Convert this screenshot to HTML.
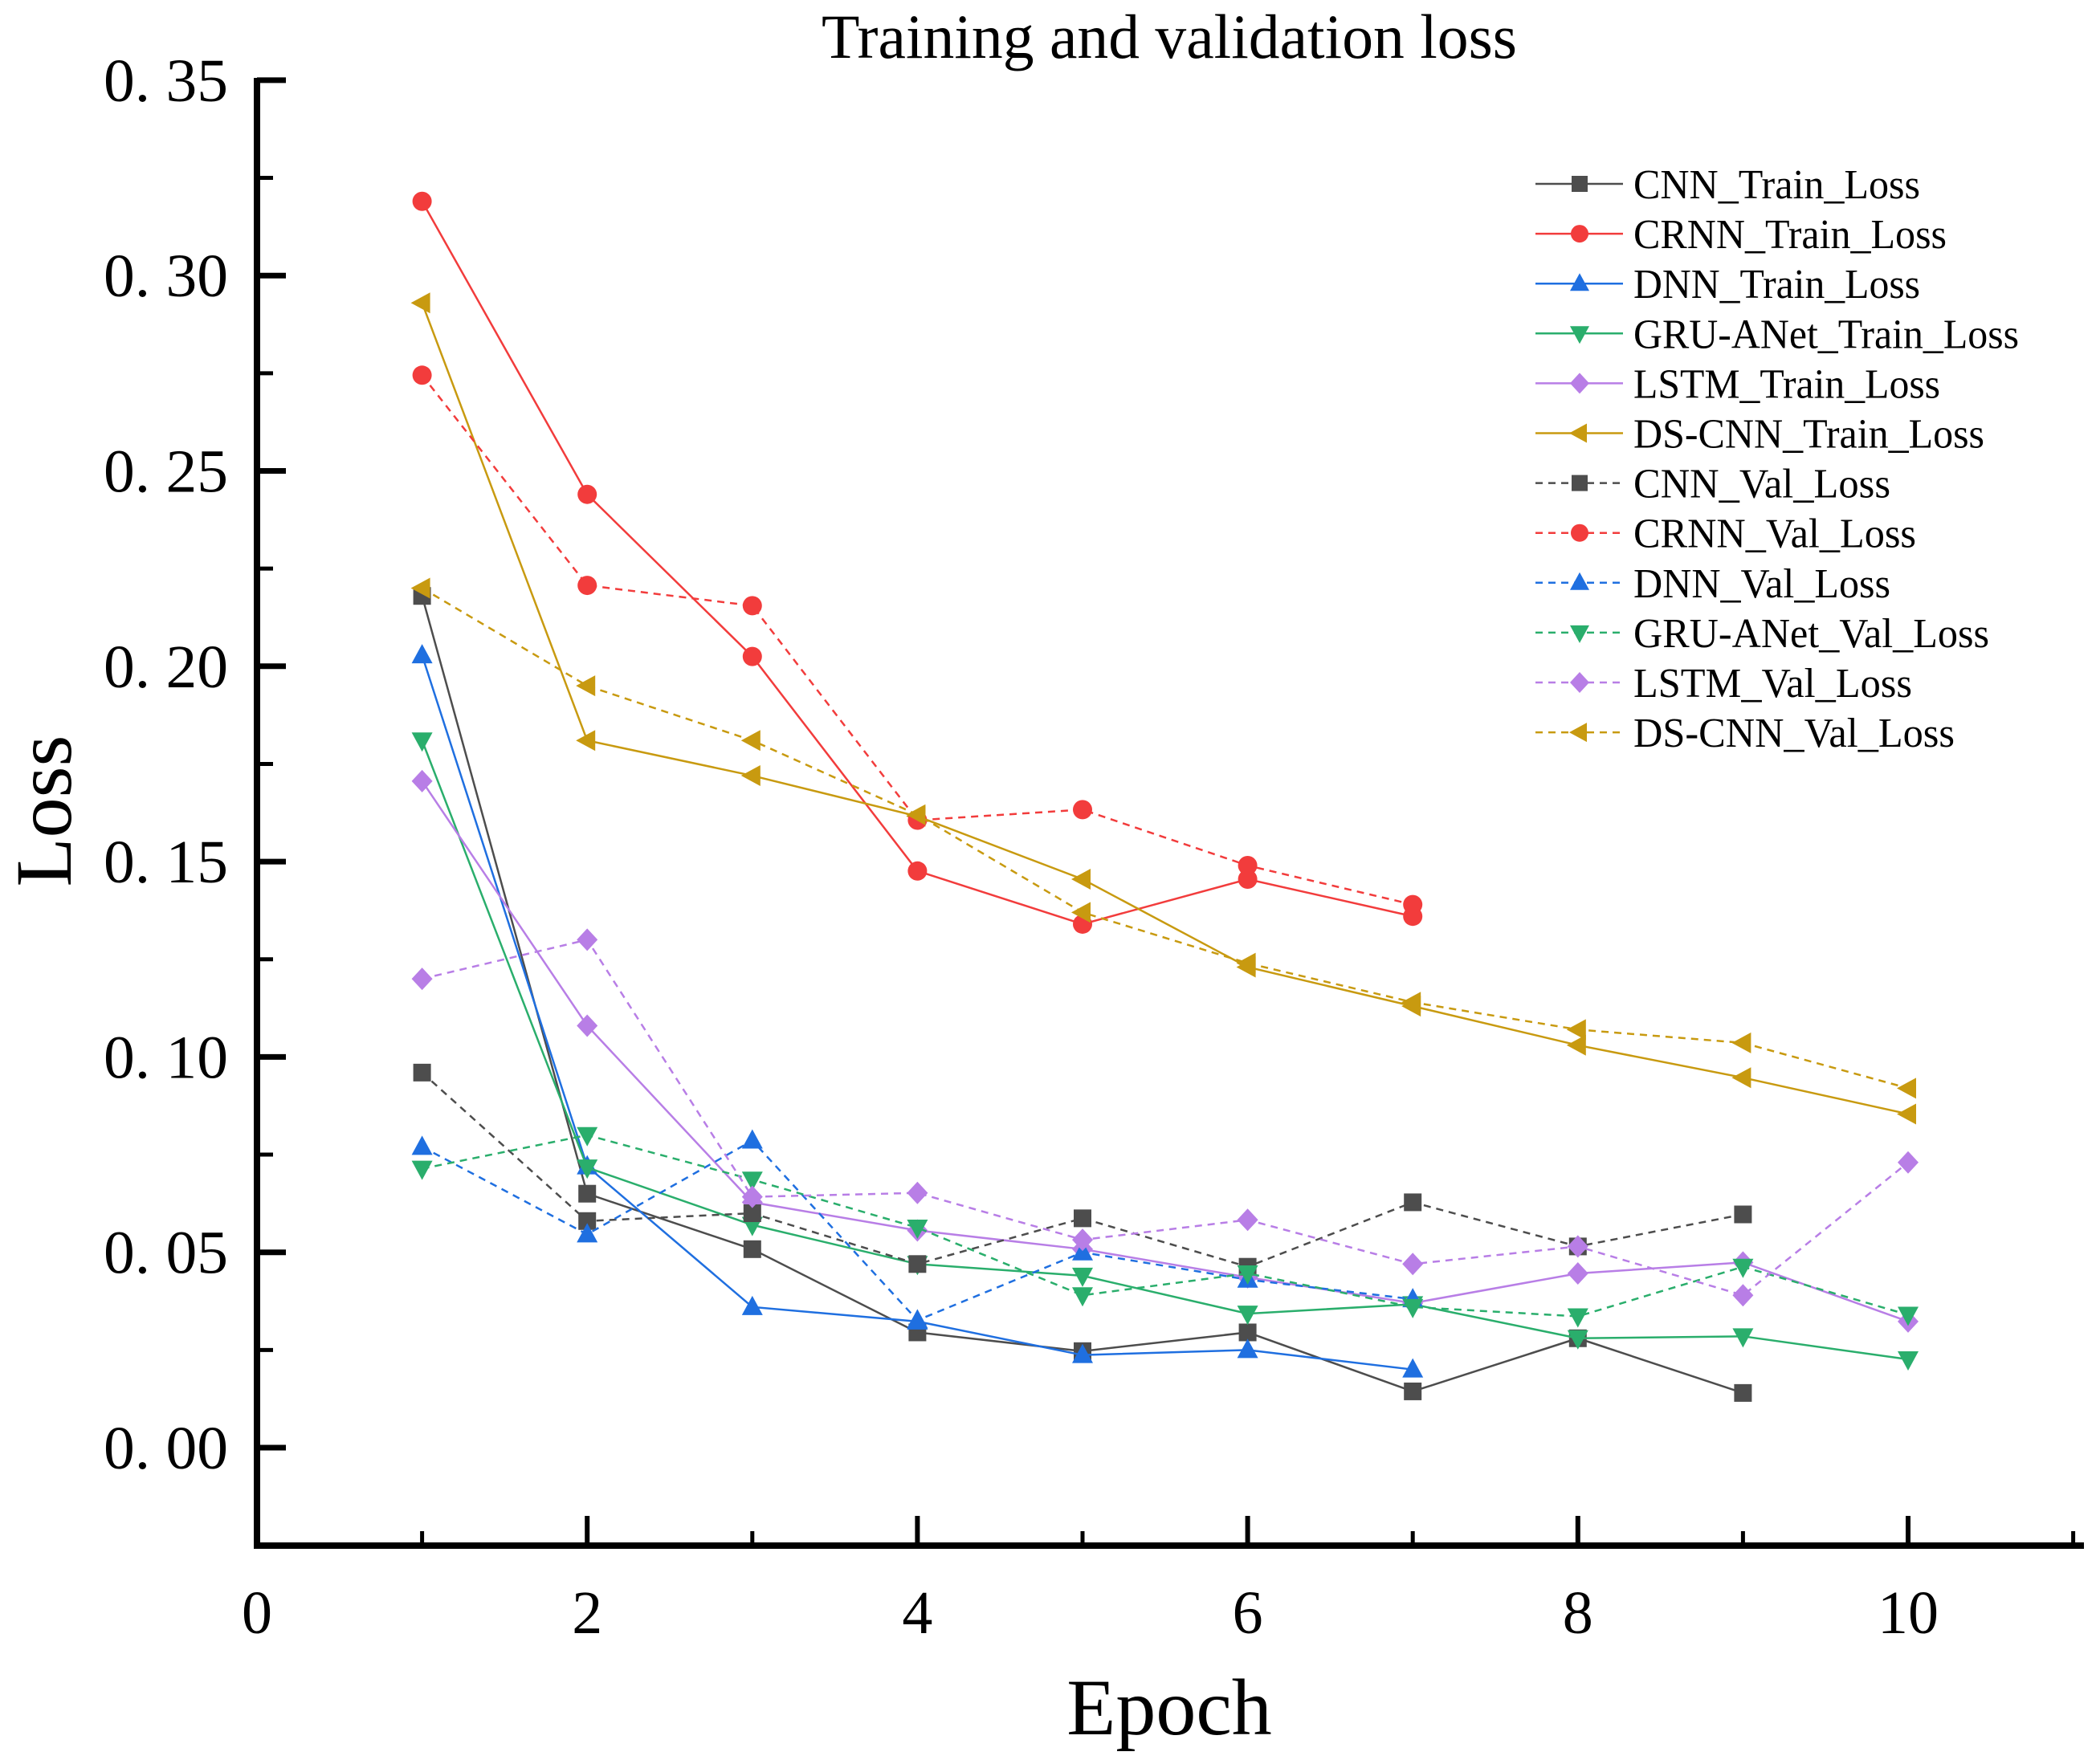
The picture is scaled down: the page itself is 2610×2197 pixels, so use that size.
<!DOCTYPE html>
<html><head><meta charset="utf-8"><style>
html,body{margin:0;padding:0;background:#fff;}
svg{display:block;font-family:"Liberation Serif",serif;}
</style></head><body>
<svg id="chart" width="2610" height="2197" viewBox="0 0 2610 2197" xmlns="http://www.w3.org/2000/svg">
<text x="1456" y="72" font-size="78" text-anchor="middle" textLength="866" lengthAdjust="spacingAndGlyphs">Training and validation loss</text>
<text x="0" y="0" font-size="100" text-anchor="middle" transform="translate(88,1010) rotate(-90)">Loss</text>
<text x="1456" y="2160" font-size="100" text-anchor="middle">Epoch</text>
<g id="axes"></g>
<g id="series"></g>
<g id="legend"></g>
</svg>
<script>
const epochs = [1,2,3,4,5,6,7,8,9,10];
const seriesNames = ["CNN_Train_Loss","CRNN_Train_Loss","DNN_Train_Loss","GRU-ANet_Train_Loss","LSTM_Train_Loss","DS-CNN_Train_Loss","CNN_Val_Loss","CRNN_Val_Loss","DNN_Val_Loss","GRU-ANet_Val_Loss","LSTM_Val_Loss","DS-CNN_Val_Loss"];
const cnnTrain = [0.218,0.065,0.0508,0.0295,0.0247,0.0295,0.0144,0.028,0.014];
const crnnTrain = [0.319,0.244,0.2025,0.1476,0.134,0.1455,0.136];
const dnnTrain = [0.2028,0.072,0.036,0.0323,0.0237,0.025,0.02];
const gruTrain = [0.181,0.0717,0.057,0.047,0.044,0.0343,0.0367,0.028,0.0285,0.0226];
const lstmTrain = [0.1706,0.108,0.0628,0.0556,0.0508,0.0436,0.037,0.0446,0.0474,0.0323];
const dscnnTrain = [0.293,0.181,0.172,0.1616,0.1455,0.123,0.113,0.103,0.0947,0.0854];
const cnnVal = [0.096,0.058,0.06,0.047,0.0587,0.0463,0.0628,0.0515,0.0597];
const crnnVal = [0.2745,0.2207,0.2155,0.1606,0.1633,0.149,0.139];
const dnnVal = [0.077,0.0546,0.0786,0.0326,0.05,0.043,0.038];
const gruVal = [0.0714,0.080,0.0686,0.0563,0.039,0.0446,0.036,0.0336,0.0463,0.034];
const lstmVal = [0.12,0.130,0.0642,0.0652,0.0532,0.0583,0.047,0.0515,0.039,0.073];
const dscnnVal = [0.22,0.195,0.181,0.162,0.137,0.124,0.114,0.107,0.1036,0.092];
const yTickLabels = ["0. 00","0. 05","0. 10","0. 15","0. 20","0. 25","0. 30","0. 35"];
const xTickLabels = ["0","2","4","6","8","10"];

const NS="http://www.w3.org/2000/svg";
const X0=320, XUNIT=205.6, Y0=1803, YUNIT=243.3/0.05;
const AXB=1925, AXR=2595, AXT=97;
function sx(v){return X0+v*XUNIT;}
function sy(v){return Y0-v*YUNIT;}
function mk(tag,attrs,parent){const e=document.createElementNS(NS,tag);for(const k in attrs)e.setAttribute(k,attrs[k]);parent.appendChild(e);return e;}

const axes=document.getElementById('axes');
let e;
e=mk('line',{x1:X0,y1:AXT,x2:X0,y2:AXB+4,stroke:'#000','stroke-width':8},axes);


e=mk('line',{x1:X0-4,y1:AXB,x2:AXR,y2:AXB,stroke:'#000','stroke-width':8},axes);


for(let i=0;i<yTickLabels.length;i++){
  const v=i*0.05, y=sy(v);
  e=mk('line',{x1:X0,y1:y,x2:X0+36,y2:y,stroke:'#000','stroke-width':7},axes);
  
  
  if(i<yTickLabels.length-1){
    e=mk('line',{x1:X0,y1:sy(v+0.025),x2:X0+20,y2:sy(v+0.025),stroke:'#000','stroke-width':5},axes);
    
    
  }
  e=mk('text',{x:X0-36,y:y+26,'font-size':76,'text-anchor':'end',textLength:155,lengthAdjust:'spacingAndGlyphs'},axes);
  e.textContent=yTickLabels[i];
  
  
}
e=mk('line',{x1:X0,y1:sy(-0.025),x2:X0+20,y2:sy(-0.025),stroke:'#000','stroke-width':5},axes);
for(let i=0;i<xTickLabels.length;i++){
  const v=i*2, x=sx(v);
  e=mk('line',{x1:x,y1:AXB,x2:x,y2:AXB-37,stroke:'#000','stroke-width':6},axes);
  
  
  e=mk('line',{x1:sx(v+1),y1:AXB,x2:sx(v+1),y2:AXB-18,stroke:'#000','stroke-width':5},axes);
  
  
  e=mk('text',{x:x,y:2034,'font-size':76,'text-anchor':'middle'},axes);
  e.textContent=xTickLabels[i];
  
  
}

const defs=[
 [cnnTrain,'#4d4d4d','square',false],[crnnTrain,'#f23c3c','circle',false],[dnnTrain,'#1f6fe0','up',false],
 [gruTrain,'#2aae6c','down',false],[lstmTrain,'#b87ee6','diamond',false],[dscnnTrain,'#c89a10','left',false],
 [cnnVal,'#4d4d4d','square',true],[crnnVal,'#f23c3c','circle',true],[dnnVal,'#1f6fe0','up',true],
 [gruVal,'#2aae6c','down',true],[lstmVal,'#b87ee6','diamond',true],[dscnnVal,'#c89a10','left',true]];
function marker(shape,x,y,c,parent,s){
  s=s||12;let el;
  if(shape==='square')el=mk('rect',{x:x-s+1,y:y-s+1,width:2*s-2,height:2*s-2,fill:c},parent);
  else if(shape==='circle')el=mk('circle',{cx:x,cy:y,r:s,fill:c},parent);
  else if(shape==='up')el=mk('polygon',{points:`${x},${y-s-2} ${x-s-1},${y+s-2} ${x+s+1},${y+s-2}`,fill:c},parent);
  else if(shape==='down')el=mk('polygon',{points:`${x},${y+s+2} ${x-s-1},${y-s+2} ${x+s+1},${y-s+2}`,fill:c},parent);
  else if(shape==='diamond')el=mk('polygon',{points:`${x},${y-s-2} ${x+s+1},${y} ${x},${y+s+2} ${x-s-1},${y}`,fill:c},parent);
  else el=mk('polygon',{points:`${x-s-2},${y} ${x+s-2},${y-s-1} ${x+s-2},${y+s+1}`,fill:c},parent);
  return el;
}
const sg=document.getElementById('series');
defs.forEach((d,si)=>{
  const [vals,c,shape,dash]=d;
  const g=mk('g',{},sg);
  
  
  const pts=vals.map((v,i)=>sx(epochs[i])+','+sy(v)).join(' ');
  const pl=mk('polyline',{points:pts,fill:'none',stroke:c,'stroke-width':2.5,'stroke-dasharray':dash?'9 7':'none'},g);
  
  
  vals.forEach((v,i)=>{
    const m=marker(shape,sx(epochs[i]),sy(v),c,g);
    
    
  });
});
const lg=document.getElementById('legend');
const legendWidths=[357,390,357,480,382,437,320,352,320,443,347,400];
defs.forEach((d,si)=>{
  const [vals,c,shape,dash]=d;
  const y=229+si*62.1;
  const g=mk('g',{},lg);
  
  
  mk('line',{x1:1912,y1:y,x2:2021,y2:y,stroke:c,'stroke-width':2.5,'stroke-dasharray':dash?'9 7':'none'},g);
  marker(shape,1967,y,c,g,11);
  const t=mk('text',{x:2034,y:y+18,'font-size':52,textLength:legendWidths[si],lengthAdjust:'spacingAndGlyphs'},g);
  t.textContent=seriesNames[si];
});
</script>
</body></html>
